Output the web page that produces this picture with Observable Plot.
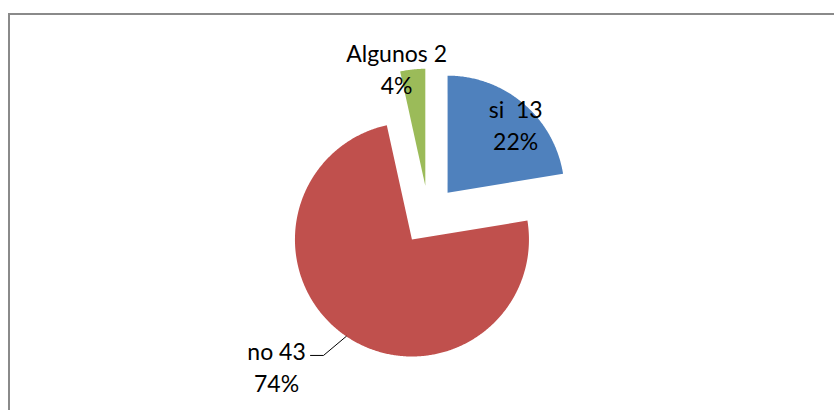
<!DOCTYPE html>
<html>
<head>
<meta charset="utf-8">
<script src="https://cdn.jsdelivr.net/npm/d3@7"></script>
<script src="https://cdn.jsdelivr.net/npm/@observablehq/plot@0.6"></script>
<style>
  html, body { margin: 0; padding: 0; background: #fff; overflow: hidden; }
  #wrap { position: relative; width: 834px; height: 410px; }
  #border { position: absolute; left: 8px; top: 13px; width: 900px; height: 500px;
            border-left: 2px solid #8a8a8a; border-top: 2px solid #8a8a8a; }
  #chart { position: absolute; left: 0; top: 0; }
  svg text { white-space: pre; }
</style>
</head>
<body>
<div id="wrap"><div id="border"></div><div id="chart"></div></div>
<script>
// ---- data ----
const categories = ["si", "no", "Algunos"];
const values = [13, 43, 2];
const percents = ["22%", "74%", "4%"];
const valueLabels = ["si  13", "no 43", "Algunos 2"];
const colors = ["#4F81BD", "#C0504D", "#9BBB59"];

// ---- layout (radius units; angles clockwise from 12 o'clock) ----
const explode = 0.252;
const labelPos = { // [radius factor from slice apex, angle in degrees]
  "si": [0.83, 44.5],
  "no": [1.58, 227.1],
  "Algunos": [1.037, 346.3]
};
const leader = { no: { elbow: [-0.756, -0.991], end: [-0.867, -0.991] } };

const pie = d3.pie().sort(null).value(d => d.value)(
  categories.map((c, i) => ({ category: c, value: values[i], pct: percents[i], lab: valueLabels[i] }))
);

const rad = a => a * Math.PI / 180;
const polys = [], labels = [], leaders = [];
for (const s of pie) {
  const mid = (s.startAngle + s.endAngle) / 2;
  const ax = explode * Math.sin(mid), ay = explode * Math.cos(mid);
  const pts = [{ category: s.data.category, x: ax, y: ay }];
  const n = Math.max(4, Math.ceil((s.endAngle - s.startAngle) / rad(0.5)));
  for (let k = 0; k <= n; k++) {
    const t = s.startAngle + (s.endAngle - s.startAngle) * k / n;
    pts.push({ category: s.data.category, x: ax + Math.sin(t), y: ay + Math.cos(t) });
  }
  polys.push(...pts);
  const [lr, la] = labelPos[s.data.category];
  labels.push({ x: ax + lr * Math.sin(rad(la)), y: ay + lr * Math.cos(rad(la)),
                text: s.data.lab + "\n" + s.data.pct });
  const L = leader[s.data.category];
  if (L) {
    leaders.push({ x: ax + Math.sin(mid), y: ay + Math.cos(mid) });
    leaders.push({ x: ax + L.elbow[0], y: ay + L.elbow[1] });
    leaders.push({ x: ax + L.end[0], y: ay + L.end[1] });
  }
}

const W = 834, H = 410, R = 117, cx = 428, cy = 214.6;
const plot = Plot.plot({
  width: W, height: H,
  margin: 0,
  x: { domain: [-cx / R, (W - cx) / R], axis: null },
  y: { domain: [-(H - cy) / R, cy / R], axis: null },
  color: { domain: categories, range: colors },
  marks: [
    Plot.line(polys, { x: "x", y: "y", z: "category", fill: "category", stroke: "none", curve: "linear-closed" }),
    Plot.line(leaders, { x: "x", y: "y", stroke: "#000", strokeWidth: 1 }),
    Plot.text(labels, { x: "x", y: "y", text: "text", textAnchor: "middle", lineAnchor: "middle",
                        lineHeight: 1.4, fontSize: 23, fontFamily: "Lato", fill: "#000" })
  ]
});
plot.style.background = "transparent";
document.getElementById("chart").appendChild(plot);
</script>
</body>
</html>
